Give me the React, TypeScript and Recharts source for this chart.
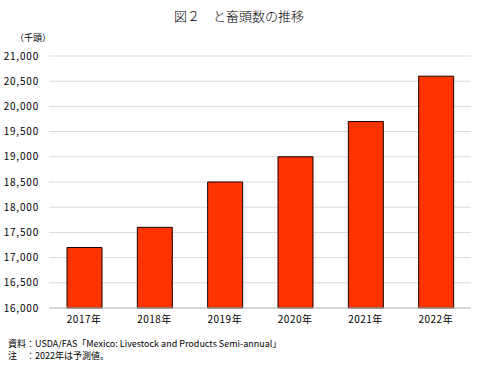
import React from 'react';
import { BarChart, Bar, XAxis, YAxis, CartesianGrid } from 'recharts';

// 年次（2022年は予測値）
const years = ['2017年', '2018年', '2019年', '2020年', '2021年', '2022年'];
// と畜頭数（千頭）
const headCounts = [17200, 17600, 18500, 19000, 19700, 20600];
const yTicks = [16000, 16500, 17000, 17500, 18000, 18500, 19000, 19500, 20000, 20500, 21000];

const FONT = '"Noto Sans CJK JP", "DejaVu Sans", sans-serif';

const chartData = years.map((year, i) => ({ year, value: headCounts[i] }));

export default function App() {
  return (
    <div style={{ position: 'absolute', left: 0, top: 0, width: 478, height: 371, background: '#fff', fontFamily: FONT }}>
      <div style={{ position: 'absolute', top: 6, left: 0, width: 478, textAlign: 'center', fontSize: 13, color: '#000', fontWeight: 300 }}>
        図２　と畜頭数の推移
      </div>
      <div style={{ position: 'absolute', top: 31, left: 15, fontSize: 9, color: '#000' }}>（千頭）</div>

      <BarChart
        width={478}
        height={371}
        data={chartData}
        margin={{ top: 56, right: 7, left: 9, bottom: 43 }}
      >
        <CartesianGrid vertical={false} stroke="#d9d9d9" />
        <XAxis
          dataKey="year"
          tickLine={false}
          axisLine={{ stroke: '#bfbfbf' }}
          tickSize={0}
          tickMargin={8}
          height={20}
          tick={{ fill: '#000', fontSize: 10, fontFamily: FONT, letterSpacing: 0.5 }}
        />
        <YAxis
          domain={[16000, 21000]}
          ticks={yTicks}
          width={40}
          tickLine={false}
          axisLine={false}
          tickSize={0}
          tickMargin={10}
          interval={0}
          tickFormatter={(v: number) => v.toLocaleString('en-US')}
          tick={{ fill: '#000', fontSize: 10, fontFamily: FONT, letterSpacing: 0.8 }}
        />
        <Bar dataKey="value" fill="#ff3300" stroke="#1a0000" strokeWidth={1} barSize={35} isAnimationActive={false} />
      </BarChart>

      <div style={{ position: 'absolute', top: 338, left: 8, fontSize: 9, color: '#000', lineHeight: '12px' }}>
        <div>資料：USDA/FAS「Mexico: Livestock and Products Semi-annual」</div>
        <div>注　：2022年は予測値。</div>
      </div>
    </div>
  );
}
